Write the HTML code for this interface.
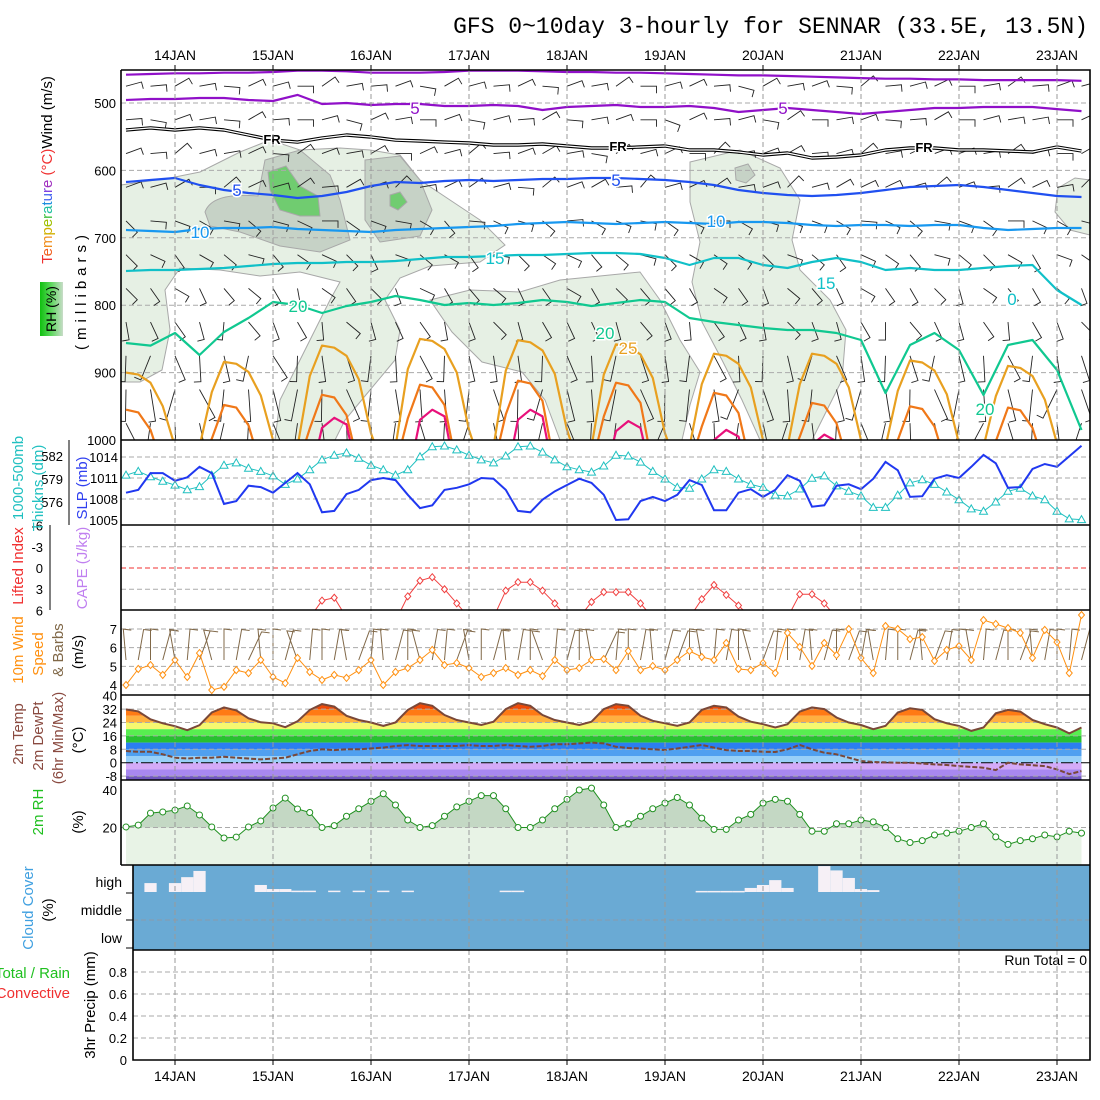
<!DOCTYPE html>
<html><head><meta charset="utf-8">
<style>
html,body{margin:0;padding:0;background:#fff;}
svg{display:block;font-family:"Liberation Sans",sans-serif;}
</style></head>
<body>
<svg id="chart" width="1100" height="1100" viewBox="0 0 1100 1100" xmlns="http://www.w3.org/2000/svg">
<defs>
<clipPath id="cMain"><rect x="121" y="70" width="969" height="370"/></clipPath>
<clipPath id="cP2"><rect x="121" y="440" width="969" height="85"/></clipPath>
<clipPath id="cP3"><rect x="121" y="525" width="969" height="85"/></clipPath>
<clipPath id="cP4"><rect x="121" y="610" width="969" height="85"/></clipPath>
<clipPath id="cP5"><rect x="121" y="695" width="969" height="85"/></clipPath>
<clipPath id="cP6"><rect x="121" y="780" width="969" height="85"/></clipPath>
<clipPath id="cRHup"><rect x="121" y="780" width="969" height="47.5"/></clipPath>
<linearGradient id="rhbox" x1="0" x2="1" y1="0" y2="0"><stop offset="0" stop-color="#10c010"/><stop offset="0.5" stop-color="#60d860"/><stop offset="1" stop-color="#c8dcc8"/></linearGradient>
</defs>
<text x="1088" y="33" text-anchor="end" font-family="Liberation Mono, monospace" font-size="23">GFS 0~10day 3-hourly for SENNAR (33.5E, 13.5N)</text>
</svg>
<script>
// ---------- data ----------
const days = ["14JAN","15JAN","16JAN","17JAN","18JAN","19JAN","20JAN","21JAN","22JAN","23JAN"];
const pressureTicks = [500,600,700,800,900,1000];
const purpleTop = [458,457,456,456,455,455,454,452,452,453,455,455,455,454,452,452,452,453,454,454,455,455,456,457,458,459,459,460,461,462,463,464,464,465,465,466,466,466,466,467];
const purple5 = [495.5,494,494,492.6,492.6,495.5,497,488,501.5,500,503,501.5,501.5,504.5,504.5,503,504.5,510.4,506,504.5,503,506,506,504.5,507.4,513.4,510.4,507.4,510.4,513.4,516.3,513.4,510.4,507.4,507.4,506,506,506,509,512];
const freezing = [540,537,540,537,540,547.5,555,558,552,547.5,550.4,555,556.4,558,559.3,562.3,562.3,560.8,563.8,566.8,566.8,565.3,563.8,569.7,569.7,572.7,577.2,574.2,581.6,580.1,577.2,569.7,566.8,566.8,569.7,569.7,571.2,572.7,565.3,571.2];
const iso5 = [617.2,614.2,611.3,621.7,629.1,633.5,636.5,641,638,632,623.1,617.2,618.7,615.7,614.2,615.7,614.2,612.8,612.8,611.3,611.3,612.8,614.2,617.2,621.7,629.1,633.5,636.5,638,636.5,633.5,629.1,624.6,623.1,621.7,624.6,629.1,633.5,638,639.5];
const iso10 = [688.4,689.9,691.4,686.9,685.5,685.5,684,686.9,688.4,689.9,691.4,688.4,686.9,685.5,684,682.5,679.5,678,676.6,678,679.5,678,676.6,678,679.5,676.6,676.6,678,681,682.5,681,681,682.5,681,681,685.5,688.4,686.9,685.5,685.5];
const iso15 = [749.3,747.8,747.8,746.3,744.8,741.8,738.9,737.4,737.4,735.9,735.9,734.4,731.5,728.5,728.5,727,725.5,725.5,724,722.6,722.6,724,730,740.4,730,730,740.4,744.8,735.9,730,735.9,747.8,744.8,747.8,747.8,744.8,741.8,740.4,777.5,799.7];
const iso20 = [856.1,860,841.2,873.9,839.8,819,795.3,799.7,811.5,801.2,795.3,786.4,792.3,799.7,796.8,799.7,796.8,792.3,795.3,801.2,796.8,792.3,795.3,819,824.9,829.4,833.8,836.8,836.8,841.2,851.6,930.3,859,841.2,866.5,933.2,859,851.6,896.1,985.2];
const iso25 = [900,903,915,950,1010,1040,1010,929, 884,887,899,934,1000,1040,1010,905, 860,863,875,910,990,1040,1010,895, 850,853,865,900,985,1040,1010,897, 852,855,867,902,985,1040,1010,903, 858,861,873,908,990,1040,1010,917, 872,875,887,922,1000,1040,1010,917, 872,875,887,922,1000,1040,1010,927, 882,885,897,932,1005,1040,1010,935, 890,893,905,940,1005,1040,1010];
const iso30 = [955,959,985,1040,1060,1060,1040,998, 948,952,978,1040,1060,1060,1040,983, 933,937,963,1040,1060,1060,1040,968, 918,922,948,1040,1060,1060,1040,962, 912,916,942,1040,1060,1060,1040,965, 915,919,945,1040,1060,1060,1040,980, 930,934,960,1040,1060,1060,1040,995, 945,949,975,1040,1060,1060,1040,1000, 950,954,980,1040,1060,1060,1040,1002, 952,956,982,1040,1060,1060,1040];
const iso35 = [1060,1060,1060,1060,1060,1060,1060,1060, 1060,1060,1060,1060,1060,1060,1060,1060, 982,967,977,1060,1060,1060,1060,1060, 970,955,965,1060,1060,1060,1060,1060, 970,955,965,1060,1060,1060,1060,1060, 987,972,982,1060,1060,1060,1060,1060, 1000,985,995,1060,1060,1060,1060,1060, 1007,992,1002,1060,1060,1060,1060,1060, 1060,1060,1060,1060,1060,1060,1060,1060, 1060,1060,1060,1060,1060,1060,1060];
const barbLevels = [475,525,575,625,675,725,775,825,875,925,975];
const barbLevelDir = [75,80,70,65,110,125,140,155,172,176,178];
const barbLevelLen = [16,16,16,16,16,16,16,18,26,32,33];
const barbTimeShift = [0,10,-15,5,20,-10,0,15,-20,5,10,-5,25,-15,0,10,-10,20,-5,5,-20,15,0,-10,10,30,-15,5,-5,20,-25,10,0,-10,15,5,-20,10,-5,0];
const slp = [1008.9,1009.3,1011.7,1011.7,1010.6,1011.1,1012.6,1011.7,1007.3,1007.7,1009.9,1009.7,1008.9,1010.3,1011.7,1010.1,1006.1,1006.3,1008.7,1009.3,1010.7,1011,1010.7,1008.6,1006.7,1007.1,1009.3,1009.6,1010.1,1011,1010.9,1009.3,1006.3,1006.1,1007.9,1009.1,1010,1010.9,1010.3,1008.6,1005,1005.1,1007.7,1008.3,1007.7,1008.6,1010.7,1010,1006.4,1006.4,1008.9,1009.4,1008.3,1009.3,1011.4,1010.6,1006.9,1007.1,1009.9,1010.1,1009.4,1010.9,1013.3,1012.1,1008.3,1008.4,1010.9,1011.4,1011,1012.6,1014.3,1013.1,1009.6,1009.7,1012.3,1013,1012.6,1014.1,1015.6];
const thick = [579.5,580,579.3,578.7,578.2,577.6,578,579.5,580.8,581.1,580.4,580,579.4,578.3,579,580.2,581.5,582.1,582.4,581.7,580.8,580.2,579.5,580.2,581.9,583.2,583.3,582.8,582.1,581.5,581.1,582,583.2,583.3,582.5,581.5,580.6,580.2,579.9,580.7,582.1,582,581.2,580,579,577.9,577.8,579,580.2,580,579,578.3,577.9,576.9,576.8,577.7,579.1,579.4,578.1,577.4,576.8,575.3,575.3,576.9,578.5,578.9,578.3,577.3,576.3,575.1,574.8,576,577.4,577.8,576.8,576.3,574.8,573.8,573.7];
const liftedIndex = [9,9,9,9,9,9,9,9,9,9,9,9,9,9,9,7,4.6,4.2,7,9,9,9,7.5,4,1.8,1.3,3,5,7,9,7,3.2,2,2,3.2,5,7,7,4.8,3.4,3.4,3.4,5,7,9,9,7,4.4,2.4,3.8,5.3,7,9,9,7,3.7,3.7,5,7,9,9,9,9,9,9,9,9,9,9,9,9,9,9,9,9,9,9,9,9];
const windSpeed = [4,4.86,5.07,4.54,5.34,4.43,5.71,3.73,3.9,4.8,4.64,5.34,4.43,4.1,5.45,4.7,4.27,4.54,4.38,4.8,5.34,4,4.7,4.91,5.34,5.88,5.07,5.18,4.91,4.43,4.64,4.91,4.54,4.8,4.48,5.34,4.8,4.91,5.34,5.39,4.8,5.82,4.8,5.02,4.8,5.34,5.82,5.5,5.34,6.25,4.86,4.8,5.18,4.64,6.79,6.04,5.02,6.25,5.6,7,5.45,4.64,7.16,7,6.46,6.57,5.29,5.88,6.09,5.34,7.48,7.27,7.05,6.79,5.45,6.95,6.3,4.64,7.75];
const windDir = [-5,10,0,15,-10,5,20,-15,0,10,25,-5,0,15,-20,5,0,10,-10,20,5,-5,15,0,-15,10,5,20,-10,0,15,-5,10,0,-20,5,15,0,-10,25,5,0,10,-5,15,20,0,-10,5,10,0,-15,20,5,0,10,-5,15,0,20,10,-10,5,0,15,-5,20,10,0,-10,5,15,0,20,-5,10,0,5,15];
const temp2m = [31.8,30.6,25.9,23.5,21.8,19.4,22.4,30, 33,31.2,26.5,24.1,23.5,21.2,24.7,31.5, 35,33.5,28,25.5,24,22,24,31.5, 35.5,34,28.5,25.5,24,22.5,24.5,32, 35.5,34,28.5,25.5,24,22.5,24.5,32, 35,34,28,25,23.5,22,24,31.5, 34,33,27.5,24.5,23,21,23,30.5, 33,32,27,24,22.5,20,22,30, 32.5,31.5,26,23.5,22,19,21,29.5, 31.5,30.5,25.5,23,21,17.5,21];
const dew2m = [7,6.5,6.5,5,3,2.5,3,3,3.5,3,2.5,2,2.5,3,5,7,8,7.5,8,8,8.5,9,10,10.5,10,10,10,10,10.5,10,10,10.5,10,9.5,10,11,11,11.5,12,11.5,9.5,8.8,8.5,8,7.6,8.5,9.5,10.6,9,7.5,7,7,6.5,6.4,8,10.6,8,6,5,3,1,0.4,0.2,0,0,-0.5,-1,-1.4,-2,-2.5,-3,-4.4,0,-1,-1.5,-2,-4,-6.8,-5];
const rh2m = [20.3,21.3,27.7,28.3,29.3,31.5,26.7,20.3, 14.4,14.9,20.3,23.5,30.4,35.7,29.9,28, 20,21,26,30,34,38,32,24, 20,21,26,31,34,37,37,30, 20,20,24,30,35,40,41,32, 20,22,26,30,33,36,32,25, 19,19,24,27,33,35,34,27, 18,18,22,22,24,23,20,14, 12,13,16,17,18,20,22,15, 11,13,14,16,15,18,17];
const highCloud = [0,0,33,0,33,55,78,0,0,0,0,26,11,11,5,5,0,5,0,5,0,5,0,5,0,0,0,0,0,0,0,5,5,0,0,0,0,0,0,0,0,0,0,0,0,0,0,4,4,4,4,15,26,44,15,0,0,96,80,52,11,7,0,0,0,0,0,0,0,0,0,0,0,0,0,0,0,0,0];
const tempTicks = [40,32,24,16,8,0,-8];
const precipTicks = [0,0.2,0.4,0.6,0.8];

// ---------- scales ----------
const NS = "http://www.w3.org/2000/svg";
const svg = document.getElementById("chart");
const xi = i => 126 + 12.25 * i;
const dayX = d => 175 + 98 * d;
const yP = p => 103 + (p - 500) * 0.674;
const ySLP = v => 457 + (1014 - v) * 7;
const yTh = v => 456 + (582 - v) * 7.667;
const yLI = v => 568 + v * 7.083;
const yWS = v => 629 + (7 - v) * 18.67;
const yT = v => 762.7 - v * 1.675;
const yRH = v => 865 - v * 1.875;
const yCl = v => 892 - v * 0.27;
const yPr = v => 1060 - v * 110;

function el(tag, attrs, parent) {
  const e = document.createElementNS(NS, tag);
  for (const k in attrs) e.setAttribute(k, attrs[k]);
  (parent || svg).appendChild(e);
  return e;
}
function txt(x, y, s, attrs, parent) {
  const t = el("text", Object.assign({x: x, y: y, "font-size": 13}, attrs || {}), parent);
  t.textContent = s;
  return t;
}
function rtxt(x, y, s, attrs) {
  return txt(x, y, s, Object.assign({transform: "rotate(-90 " + x + " " + y + ")", "text-anchor": "middle", "font-size": 15}, attrs || {}));
}
function hline(y, x1, x2, color, dash, parent) {
  return el("line", {x1: x1, x2: x2, y1: y, y2: y, stroke: color, "stroke-width": 1, "stroke-dasharray": dash || "5,3"}, parent);
}
function pts(arr, fy, step) {
  return arr.map((v, i) => xi(i * (step || 1)).toFixed(1) + "," + fy(v).toFixed(1)).join(" ");
}

// ---------- main panel ----------
const gMain = el("g", {"clip-path": "url(#cMain)"});



const rhShapes = [
  ["#e6f0e4", "M121,185 L170,178 L200,172 L240,152 L270,140 L300,150 L340,148 L370,150 L400,155 L420,180 L450,200 L480,220 L505,245 L480,262 L430,266 L400,278 L385,300 L400,330 L395,360 L370,390 L345,420 L335,440 L275,440 L280,400 L300,360 L330,300 L340,282 L300,272 L260,276 L220,270 L180,268 L165,290 L170,330 L162,370 L140,382 L121,382 Z"],
  ["#e6f0e4", "M430,300 L470,290 L520,292 L560,280 L600,276 L640,272 L660,300 L680,340 L700,372 L690,405 L682,440 L560,440 L545,400 L522,372 L482,362 L452,332 Z"],
  ["#e6f0e4", "M690,162 L740,150 L780,168 L800,200 L792,240 L800,270 L830,300 L846,330 L842,380 L822,420 L812,440 L760,440 L742,400 L722,360 L702,322 L692,282 L700,242 L690,202 Z"],
  ["#e6f0e4", "M1058,188 L1075,178 L1090,180 L1090,235 L1070,230 L1055,212 Z"],
  ["#c6d2c6", "M205,212 Q212,192 258,196 L265,160 L300,150 L330,175 L340,200 L350,240 L320,252 L280,246 L240,232 L210,226 Z"],
  ["#c6d2c6", "M365,160 L400,156 L420,180 L432,210 L420,236 L380,242 L365,220 Z"],
  ["#c6d2c6", "M735,168 L748,164 L755,175 L746,183 L736,180 Z"],
  ["#70cc70", "M268,172 L286,166 L300,186 L318,196 L320,216 L300,216 L280,210 L270,190 Z"],
  ["#70cc70", "M390,195 L400,192 L407,202 L398,210 L390,206 Z"]
];
rhShapes.forEach(s => {
  const p = el("path", {d: s[1], fill: s[0], stroke: "#a8a8a8", "stroke-width": 1}, gMain);
  
  
});

// grid
pressureTicks.slice(0, 5).forEach(p => {
  const l = hline(yP(p), 121, 1090, "#aaa", "5,3", gMain);
  
  
});

// barbs
barbLevels.forEach((lev, li) => {
  for (let k = 0; k < 40; k++) {
    const x = xi(2 * k), y = yP(lev);
    const a = (barbLevelDir[li] + barbTimeShift[(k + li * 3) % 40]) * Math.PI / 180;
    const L = barbLevelLen[li];
    const x2 = x + L * Math.sin(a), y2 = y - L * Math.cos(a);
    const bx = x2 + 7 * Math.cos(a), by = y2 + 7 * Math.sin(a);
    const b = el("polyline", {points: x.toFixed(1) + "," + y.toFixed(1) + " " + x2.toFixed(1) + "," + y2.toFixed(1) + " " + bx.toFixed(1) + "," + by.toFixed(1), fill: "none", stroke: "#222", "stroke-width": 0.9}, gMain);
    
    
  }
});

// contours
function contour(arr, step, color, w, name) {
  const l = el("polyline", {points: pts(arr, yP, step), fill: "none", stroke: color, "stroke-width": w, "stroke-linejoin": "round"}, gMain);
  
  
}
contour(purpleTop, 2, "#9010c8", 2.2, "isotherm-minus10");
contour(purple5, 2, "#9010c8", 2.2, "isotherm-minus5");
contour(freezing, 2, "#000", 3.4, "freezing-level");
contour(freezing, 2, "#fff", 1.2, "freezing-level-inner");
contour(iso5, 2, "#2050f0", 2.2, "isotherm-5");
contour(iso10, 2, "#1898f0", 2.2, "isotherm-10");
contour(iso15, 2, "#10c0c8", 2.2, "isotherm-15");
contour(iso20, 2, "#10c890", 2.2, "isotherm-20");
contour(iso25, 1, "#e8a020", 2.2, "isotherm-25");
contour(iso30, 1, "#f07818", 2.2, "isotherm-30");
contour(iso35, 1, "#e8107a", 2.2, "isotherm-35");

const cLabels = [[415,114,"5","#9010c8"],[783,114,"5","#9010c8"],[272,144,"FR","#000"],[618,151,"FR","#000"],[924,152,"FR","#000"],[237,196,"5","#2050f0"],[616,186,"5","#2050f0"],[200,238,"10","#1898f0"],[716,227,"10","#1898f0"],[495,264,"15","#10c0c8"],[826,289,"15","#10c0c8"],[1012,305,"0","#10c0c8"],[298,312,"20","#10c890"],[605,339,"20","#10c890"],[985,415,"20","#10c890"],[628,354,"25","#e8a020"]];
cLabels.forEach(c => {
  const t = txt(c[0], c[1], c[2], {fill: c[3], "font-size": c[2] === "FR" ? 13 : 17, "text-anchor": "middle", "font-weight": c[2] === "FR" ? "bold" : "normal", stroke: "#fff", "stroke-width": 3, "paint-order": "stroke"}, gMain);
  
  
});

pressureTicks.forEach(p => {
  const t = txt(116, yP(p) + 5, String(p), {"text-anchor": "end"});
  
  
});

// ---------- panel 2: thickness & SLP ----------
const g2 = el("g", {"clip-path": "url(#cP2)"});


[1014, 1011, 1008].forEach(v => {
  const l = hline(ySLP(v), 121, 1090, "#aaa", "5,3", g2);
  
  
});
const thLine = el("polyline", {points: pts(thick, yTh), fill: "none", stroke: "#20c0c0", "stroke-width": 1}, g2);


thick.forEach((v, i) => {
  const x = xi(i), y = yTh(v);
  const m = el("polygon", {points: x + "," + (y - 4) + " " + (x - 4) + "," + (y + 3) + " " + (x + 4) + "," + (y + 3), fill: "#fff", stroke: "#20c0c0", "stroke-width": 1}, g2);
  
  
});
const slpLine = el("polyline", {points: pts(slp, ySLP), fill: "none", stroke: "#2038f0", "stroke-width": 2}, g2);


[1014, 1011, 1008, 1005].forEach(v => {
  const t = txt(118, ySLP(v) + 5, String(v), {"text-anchor": "end"});
  
  
});
[582, 579, 576].forEach(v => {
  const t = txt(63, yTh(v) + 5, String(v), {"text-anchor": "end"});
  
  
});
const thAxis = el("line", {x1: 69, x2: 69, y1: 440, y2: 525, stroke: "#000", "stroke-width": 1});



// ---------- panel 3: LI / CAPE ----------
const g3 = el("g", {"clip-path": "url(#cP3)"});


[-3, 3].forEach(v => {
  const l = hline(yLI(v), 121, 1090, "#aaa", "5,3", g3);
  
  
});
const zeroLI = hline(yLI(0), 121, 1090, "#f03030", "5,3", g3);


const liLine = el("polyline", {points: pts(liftedIndex, yLI), fill: "none", stroke: "#f04040", "stroke-width": 1}, g3);


liftedIndex.forEach((v, i) => {
  if (v > 6.5) return;
  const x = xi(i), y = yLI(v);
  const m = el("polygon", {points: x + "," + (y - 3.5) + " " + (x + 3) + "," + y + " " + x + "," + (y + 3.5) + " " + (x - 3) + "," + y, fill: "#fff", stroke: "#f04040", "stroke-width": 1}, g3);
  
  
});
[-6, -3, 0, 3, 6].forEach(v => {
  const t = txt(43, yLI(v) + 5, String(v), {"text-anchor": "end"});
  
  
});
const liAxis = el("line", {x1: 50, x2: 50, y1: 525, y2: 610, stroke: "#000", "stroke-width": 1});



// ---------- panel 4: wind ----------
const g4 = el("g", {"clip-path": "url(#cP4)"});


[4, 5, 6, 7].forEach(v => {
  const l = hline(yWS(v), 121, 1090, "#aaa", "5,3", g4);
  
  
});
windDir.forEach((d, i) => {
  const x = xi(i), a = d * Math.PI / 180;
  const x2 = x + 31 * Math.sin(a), y2 = 660 - 31 * Math.cos(a);
  const b = el("polyline", {points: x + ",660 " + x2.toFixed(1) + "," + y2.toFixed(1) + " " + (x2 + 8).toFixed(1) + "," + (y2 + 1).toFixed(1), fill: "none", stroke: "#806848", "stroke-width": 1}, g4);
  
  
});
const wsLine = el("polyline", {points: pts(windSpeed, yWS), fill: "none", stroke: "#ff9010", "stroke-width": 1}, g4);


windSpeed.forEach((v, i) => {
  const x = xi(i), y = yWS(v);
  const m = el("polygon", {points: x + "," + (y - 3.5) + " " + (x + 3) + "," + y + " " + x + "," + (y + 3.5) + " " + (x - 3) + "," + y, fill: "#fff", stroke: "#ff9010", "stroke-width": 1}, g4);
  
  
});
[4, 5, 6, 7].forEach(v => {
  const t = txt(117, yWS(v) + 5, String(v), {"text-anchor": "end"});
  
  
});

// ---------- panel 5: temperature ----------
const g5 = el("g", {"clip-path": "url(#cP5)"});


const defs = svg.querySelector("defs");
const cp = el("clipPath", {id: "cTemp"}, defs);
el("polygon", {points: xi(0) + ",780 " + pts(temp2m, yT) + " " + xi(temp2m.length - 1) + ",780"}, cp);
const bands = [[32,60,"#ee4a08"],[28,32,"#ff7a14"],[24,28,"#ffb040"],[20,24,"#f6f870"],[16,20,"#58ee50"],[12,16,"#28c030"],[8,12,"#2c7ef0"],[4,8,"#50a0f0"],[0,4,"#98d0f8"],[-4,0,"#d4aaf8"],[-8,-4,"#a888f0"],[-14,-8,"#7058c0"]];
const gb = el("g", {"clip-path": "url(#cTemp)"}, g5);
bands.forEach(b => {
  const r = el("rect", {x: 121, y: yT(b[1]), width: 969, height: yT(b[0]) - yT(b[1]), fill: b[2]}, gb);
  
  
});
[32, 24, 16, 8, -8].forEach(v => {
  const l = hline(yT(v), 121, 1090, "#aaa", "5,3", g5);
  
  
});
const zl = hline(yT(0), 121, 1090, "#000", "12,3,2,3", g5);


const tLine = el("polyline", {points: pts(temp2m, yT), fill: "none", stroke: "#7a4838", "stroke-width": 2}, g5);


const dLine = el("polyline", {points: pts(dew2m, yT), fill: "none", stroke: "#7a4838", "stroke-width": 2, "stroke-dasharray": "5,2"}, g5);


tempTicks.forEach(v => {
  const t = txt(117, yT(v) + 5, String(v), {"text-anchor": "end"});
  
  
});

// ---------- panel 6: RH ----------
const g6 = el("g", {"clip-path": "url(#cP6)"});


const rhPoly = xi(0) + ",865 " + pts(rh2m, yRH) + " " + xi(rh2m.length - 1) + ",865";
const rhFill = el("polygon", {points: rhPoly, fill: "#e8f3e6"}, g6);


const rhUp = el("polygon", {points: rhPoly, fill: "#c4d8c4", "clip-path": "url(#cRHup)"}, g6);


const rg = hline(yRH(20), 121, 1090, "#aaa", "5,3", g6);


const rhLine = el("polyline", {points: pts(rh2m, yRH), fill: "none", stroke: "#209020", "stroke-width": 1}, g6);


rh2m.forEach((v, i) => {
  const c = el("circle", {cx: xi(i), cy: yRH(v), r: 3, fill: "#fff", stroke: "#209020", "stroke-width": 1}, g6);
  
  
});
[40, 20].forEach(v => {
  const t = txt(117, yRH(v) + 5, String(v), {"text-anchor": "end"});
  
  
});

// ---------- panel 7: cloud ----------
const cloudBg = el("rect", {x: 133, y: 865, width: 957, height: 85, fill: "#6aaad4"});


highCloud.forEach((v, i) => {
  if (v <= 0) return;
  const r = el("rect", {x: xi(i) - 6.1, y: yCl(v), width: 12.25, height: Math.max(1.5, 892 - yCl(v)), fill: "#f6f0f6"});
  
  
});
[920].forEach(y => {
  const l = hline(y, 133, 1090, "#8a9aaa", "5,3");
  
  
});
[["high", 887], ["middle", 915], ["low", 943]].forEach(c => {
  const t = txt(122, c[1], c[0], {"text-anchor": "end", "font-size": 14});
  
  
});
[893, 920, 948].forEach(y => {
  const l = el("line", {x1: 126, x2: 133, y1: y, y2: y, stroke: "#000"});
  
  
});

// ---------- panel 8: precip ----------
precipTicks.slice(1).forEach(v => {
  const l = hline(yPr(v), 133, 1090, "#aaa", "5,3");
  
  
});
precipTicks.forEach(v => {
  const t = txt(127, yPr(v) + 5, v === 0 ? "0" : String(v), {"text-anchor": "end"});
  
  
});
const rt = txt(1087, 965, "Run Total = 0", {"text-anchor": "end", "font-size": 14});



// ---------- day gridlines & labels ----------
days.forEach((d, k) => {
  const x = dayX(k);
  const l = el("line", {x1: x, x2: x, y1: 70, y2: 1060, stroke: "#999", "stroke-width": 1, "stroke-dasharray": "5,3"});
  
  
  const t1 = txt(x, 60, d, {"text-anchor": "middle", "font-size": 14});
  
  
  const t2 = txt(x, 1081, d, {"text-anchor": "middle", "font-size": 14});
  
  
  [[70, 65], [1060, 1065]].forEach(p => {
    const tk = el("line", {x1: x, x2: x, y1: p[0], y2: p[1], stroke: "#000"});
    
    
  });
});

// ---------- frames ----------
const frame = el("path", {d: "M121,70 H1090 V950 M121,70 V865 M121,440 H1090 M121,525 H1090 M121,610 H1090 M121,695 H1090 M121,780 H1090 M121,865 H1090 M133,865 V1060 H1090 V950 M133,950 H1090", fill: "none", stroke: "#000", "stroke-width": 1.6});



// ---------- axis titles ----------
const mt = rtxt(52, 170, "", {});


const rainbow = ["#f03030","#f06020","#f09020","#d0b000","#a0c000","#40c040","#20c0a0","#2090e0","#4060f0","#8040e0","#a030c0"];
"Temperature".split("").forEach((ch, i) => {
  const s = el("tspan", {fill: rainbow[i]}, mt);
  s.textContent = ch;
});
const s1 = el("tspan", {fill: "#f03030"}, mt); s1.textContent = " (°C)";
const s2 = el("tspan", {fill: "#000"}, mt); s2.textContent = "Wind (m/s)";
const mb = rtxt(86, 290, "(millibars)", {"letter-spacing": 5});


const rhb = el("rect", {x: 40, y: 282, width: 23, height: 54, fill: "url(#rhbox)"});


const rhl = rtxt(56, 309, "RH (%)", {"font-size": 14});



const titles = [
  [18, 478, "1000-500mb", "#20c0c0"], [38, 488, "Thickns (dm)", "#20c0c0"], [82, 488, "SLP (mb)", "#3040f0"],
  [18, 566, "Lifted Index", "#f03030"], [82, 568, "CAPE (J/kg)", "#c080f0"],
  [18, 650, "10m Wind", "#ff9010"], [38, 654, "Speed", "#ff9010"], [58, 650, "& Barbs", "#806848"], [78, 652, "(m/s)", "#000"],
  [18, 734, "2m Temp", "#8a4a40"], [38, 736, "2m DewPt", "#8a4a40"], [58, 738, "(6hr Min/Max)", "#8a4a40"], [78, 740, "(°C)", "#000"],
  [38, 812, "2m RH", "#20c020"], [78, 822, "(%)", "#000"],
  [28, 908, "Cloud Cover", "#40a0e0"], [48, 910, "(%)", "#000"],
  [90, 1005, "3hr Precip (mm)", "#000"]
];
titles.forEach(t => {
  const e = rtxt(t[0] + 5, t[1], t[2], {fill: t[3]});
  
  
});
const tr = txt(70, 978, "Total / Rain", {"text-anchor": "end", fill: "#20c020", "font-size": 15});


const tc = txt(70, 998, "Convective", {"text-anchor": "end", fill: "#f03030", "font-size": 15});


</script>
</body></html>
